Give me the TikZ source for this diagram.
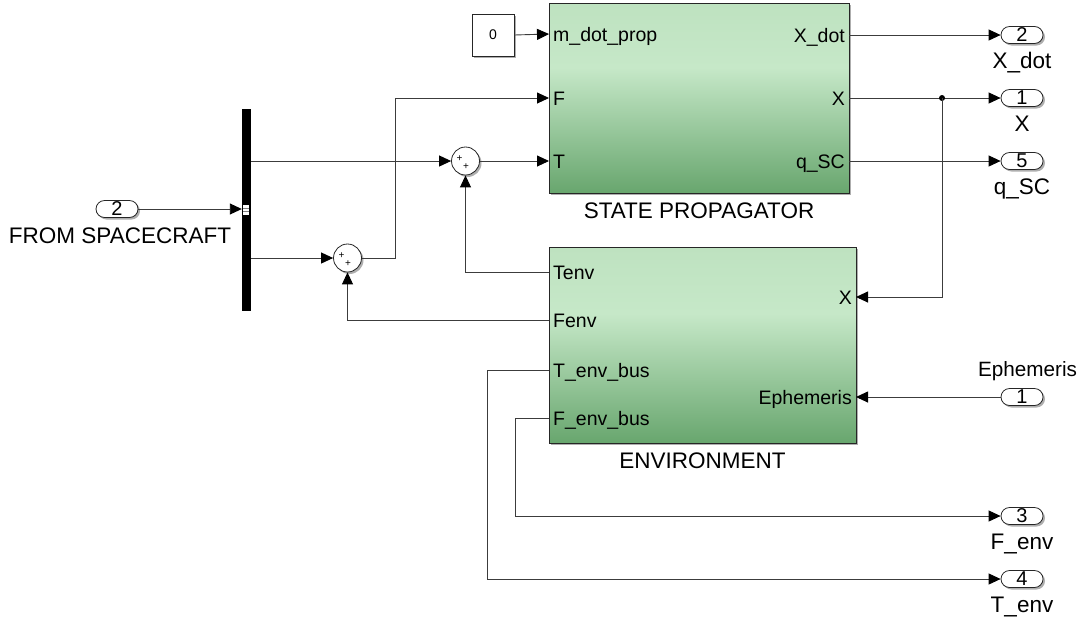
\documentclass[tikz,border=0pt]{standalone}
\usepackage{fontspec}
\setmainfont{Liberation Sans}
\usetikzlibrary{arrows.meta,shadows}

\definecolor{wirec}{RGB}{60,60,60}
\definecolor{gtop}{RGB}{190,226,192}
\definecolor{gmid}{RGB}{198,232,200}
\definecolor{gbot}{RGB}{104,166,110}
% block fill: light near the top, darkening towards the bottom edge
\pgfdeclareverticalshading{simgreen}{100bp}{color(0bp)=(gbot); color(25bp)=(gbot); color(58bp)=(gmid); color(75bp)=(gtop); color(100bp)=(gtop)}

\tikzset{
  wire/.style={draw=wirec, line width=0.9pt},
  sig/.style={wire, -{Triangle[length=12pt,width=11pt,color=black]}},
  shade/.style={drop shadow={shadow xshift=2pt, shadow yshift=-2pt, fill=black!45, opacity=0.7}},
  block/.style={draw=black!85, line width=0.8pt, shading=simgreen, shade, inner sep=0pt},
  portl/.style={inner sep=0pt, text height=15pt, text depth=0pt, font=\fontsize{19.5}{20}\selectfont},
  title/.style={inner sep=0pt, anchor=base, font=\fontsize{22.5}{23}\selectfont},
  oval/.style={draw=black!85, line width=0.8pt, fill=white, rounded corners=8.5pt, minimum width=42pt,
    minimum height=17pt, inner sep=0pt, shade, font=\fontsize{20}{20}\selectfont},
  sumc/.style={circle, draw=black!85, line width=0.8pt, fill=white, minimum size=28pt, inner sep=0pt, shade},
  plus/.style={inner sep=0pt, font=\fontsize{10}{10}\selectfont},
  constb/.style={draw=black!85, line width=0.8pt, fill=white, minimum width=42pt, minimum height=42pt,
    inner sep=0pt, shade, font=\fontsize{14}{14}\selectfont},
  demuxb/.style={fill=black, minimum width=9pt, minimum height=202pt, inner sep=0pt},
}

\begin{document}
\begin{tikzpicture}[x=1pt,y=-1pt]
\useasboundingbox (0,0) rectangle (1083,622);

% main subsystems
\node[block, minimum width=300pt, minimum height=190pt] (sp) at (699,98) {};
\node[title] (sptitle) at (699,218) {STATE PROPAGATOR};
\node[block, minimum width=307pt, minimum height=196pt] (env) at (702.5,345) {};
\node[title] (envtitle) at (702.5,468) {ENVIRONMENT};

% port positions on the subsystem edges
\coordinate (spM) at (549,34);
\coordinate (spF) at (549,98);
\coordinate (spT) at (549,161);
\coordinate (spXd) at (849,35);
\coordinate (spX) at (849,98);
\coordinate (spQ) at (849,161);
\coordinate (envT) at (549,272);
\coordinate (envF) at (549,320);
\coordinate (envTb) at (549,370);
\coordinate (envFb) at (549,418);
\coordinate (envX) at (856,297);
\coordinate (envE) at (856,397);

% port names inside the subsystems
\node[portl, anchor=west] (lM) at (553,34) {m\_dot\_prop};
\node[portl, anchor=west] (lF) at (553,98) {F};
\node[portl, anchor=west] (lT) at (553,161) {T};
\node[portl, anchor=east] (lXd) at (845,35) {X\_dot};
\node[portl, anchor=east] (lX) at (845,98) {X};
\node[portl, anchor=east] (lQ) at (845,161) {q\_SC};
\node[portl, anchor=west] (lTe) at (553,272) {Tenv};
\node[portl, anchor=west] (lFe) at (553,320) {Fenv};
\node[portl, anchor=west] (lTb) at (553,370) {T\_env\_bus};
\node[portl, anchor=west] (lFb) at (553,418) {F\_env\_bus};
\node[portl, anchor=east] (lXe) at (852,297) {X};
\node[portl, anchor=east] (lE) at (852,397) {Ephemeris};

% constant, demux bar and sums
\node[constb] (const) at (493,35) {0};
\node[demuxb] (demux) at (246.5,210) {};
\fill[white] (243,205) rectangle (249,215);
\draw[gray, line width=0.5pt] (243,208.3) -- (249,208.3) (243,211.7) -- (249,211.7);
\node[sumc] (sum1) at (465.5,161) {};
\node[plus] at (459.5,158.5) {+};
\node[plus] at (466,166.5) {+};
\node[sumc] (sum2) at (347.5,258) {};
\node[plus] at (341.5,255.5) {+};
\node[plus] at (348,263.5) {+};

% inport and outports
\node[oval] (in2) at (117,209) {2};
\node[title] (in2l) at (120,243) {FROM SPACECRAFT};
\node[oval] (o2) at (1022,35) {2};
\node[title] (o2l) at (1022,68) {X\_dot};
\node[oval] (o1) at (1022,98) {1};
\node[title] (o1l) at (1022,131.5) {X};
\node[oval] (o5) at (1022,161) {5};
\node[title] (o5l) at (1022,194) {q\_SC};
\node[oval] (oE) at (1022,397) {1};
\node[title, font=\fontsize{20.7}{21}\selectfont] (oEl) at (1027.5,376) {Ephemeris};
\node[oval] (o3) at (1022,516) {3};
\node[title] (o3l) at (1022,549) {F\_env};
\node[oval] (o4) at (1022,579) {4};
\node[title] (o4l) at (1022,612) {T\_env};

% routing corners
\coordinate (fup) at (395,98);
\coordinate (xjoin) at (942,98);
\coordinate (tbend) at (487,370);
\coordinate (fbend) at (515,418);

% signal lines
\draw[sig] (in2.east) -- (in2.east -| demux.west);
\draw[sig] (sum1.west -| demux.east) -- (sum1.west);
\draw[sig] (sum2.west -| demux.east) -- (sum2.west);
\draw[sig] (sum1.east) -- (spT);
\draw[sig] (sum2.east) -| (fup) -- (spF);
\draw[sig] (const.east) -- (spM);
\draw[sig] (spXd) -- (o2.west);
\draw[sig] (spX) -- (o1.west);
\draw[sig] (spQ) -- (o5.west);
\fill[black] (xjoin) circle (3);
\draw[sig] (xjoin) |- (envX);
\draw[sig] (envT) -| (sum1.south);
\draw[sig] (envF) -| (sum2.south);
\draw[sig] (envTb) -- (tbend) |- (o4.west);
\draw[sig] (envFb) -- (fbend) |- (o3.west);
\draw[sig] (oE.west) -- (envE);
\end{tikzpicture}
\end{document}
